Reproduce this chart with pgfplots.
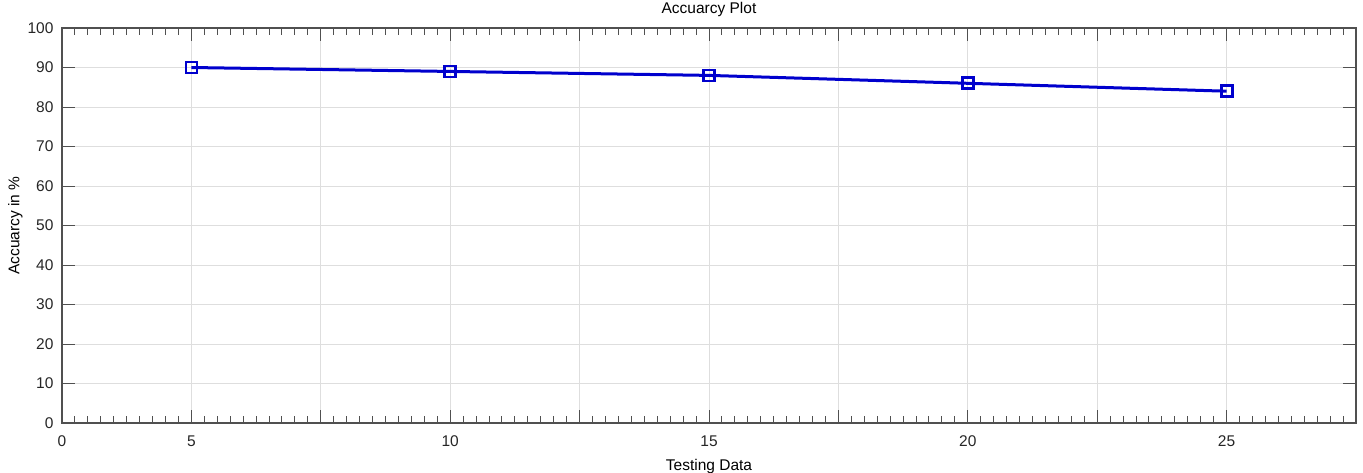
\documentclass[border=0pt]{standalone}
\usepackage{pgfplots}
\pgfplotsset{compat=1.18}
\usepackage{fontspec}
\setmainfont{Liberation Sans}
\definecolor{axgray}{RGB}{80,80,80}
\definecolor{txtgray}{RGB}{38,38,38}
\definecolor{gridgray}{RGB}{222,222,222}
\definecolor{mblue}{RGB}{0,0,205}
\begin{document}
\begin{tikzpicture}
\begin{pgfinterruptboundingbox}
\begin{axis}[
  scale only axis,
  width=1294pt, height=395pt,
  xmin=0, xmax=10, ymin=0, ymax=100,
  xtick={0,1,...,10},
  xticklabels={0,5,,10,,15,,20,,25,},
  ytick={0,10,...,100},
  minor x tick num=9,
  grid=major,
  major grid style={gridgray, line width=0.8pt},
  axis line style={axgray, line width=1.5pt},
  every tick/.style={axgray, line width=1pt},
  major tick length=13pt,
  minor tick length=7pt,
  tick align=inside,
  xtick pos=both, ytick pos=both,
  tick label style={font=\fontsize{15.5}{17}\selectfont, text=txtgray},
  xticklabel style={yshift=-9pt},
  yticklabel style={xshift=-5pt},
  /pgf/number format/assume math mode=true,
  title={Accuarcy Plot},
  title style={font=\fontsize{15.5}{17}\selectfont, text=black, inner sep=0pt, at={(axis description cs:0.5,1)}, anchor=center, yshift=13pt},
  xlabel={Testing Data},
  ylabel={Accuarcy in \%},
  label style={font=\fontsize{15.5}{17}\selectfont, text=black, inner sep=0pt},
  xlabel style={at={(axis description cs:0.5,0)}, anchor=center, yshift=-43pt},
  ylabel style={at={(axis description cs:-0.036,0.5)}, anchor=center},
]
\addplot[mblue, line width=3pt, mark=square, mark size=5.5pt,
  mark options={solid, fill=white, line width=2.8pt, draw=mblue}]
  coordinates {(1,90) (3,89) (5,88) (7,86) (9,84)};
\end{axis}
\end{pgfinterruptboundingbox}
\path ([shift={(-62pt,-49pt)}]current axis.south west) rectangle ([shift={(7pt,28pt)}]current axis.north east);
\end{tikzpicture}
\end{document}
